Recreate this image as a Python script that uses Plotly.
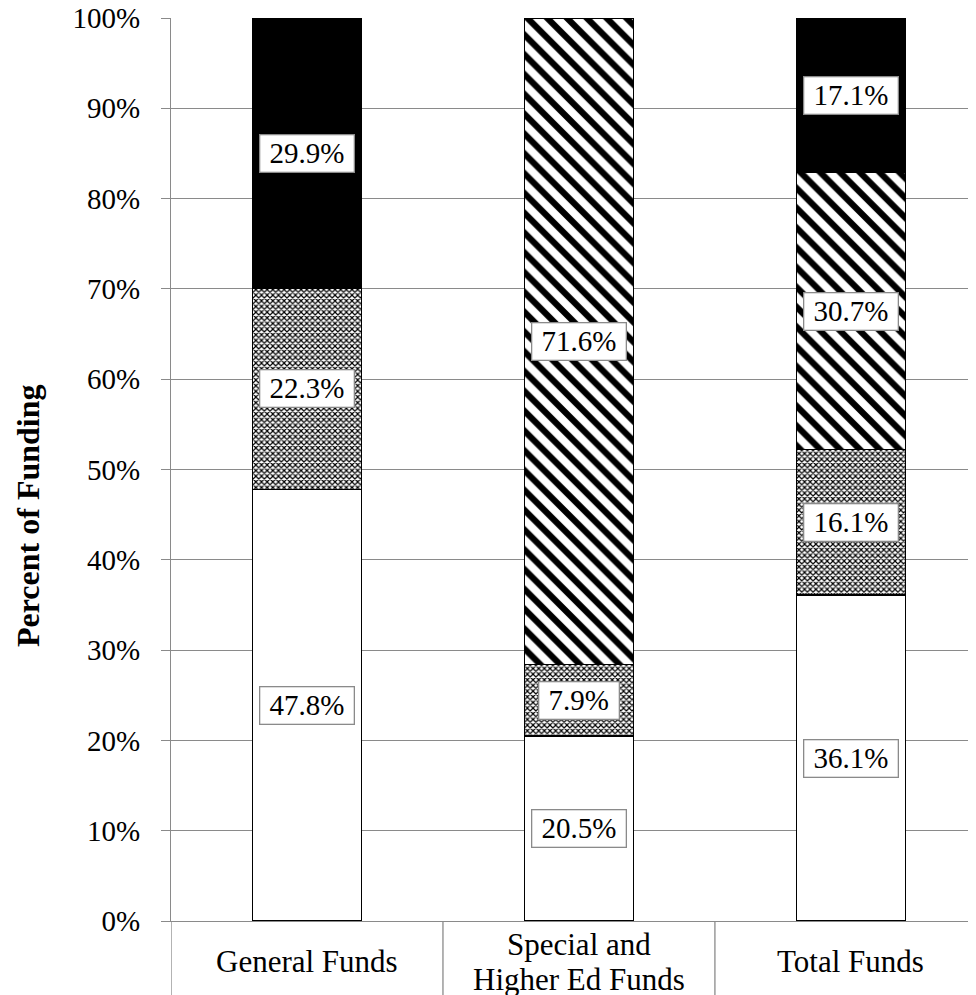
import plotly.graph_objects as go

categories = ["General Funds", "Special and<br>Higher Ed Funds", "Total Funds"]
series_names = ["Series A", "Series B", "Series C", "Series D"]
values_a = [47.8, 20.5, 36.1]   # white
values_b = [22.3, 7.9, 16.1]    # fine crosshatch
values_c = [0.0, 71.6, 30.7]    # diagonal stripes
values_d = [29.9, 0.0, 17.1]    # solid black
y_ticks = [0, 10, 20, 30, 40, 50, 60, 70, 80, 90, 100]
y_tick_labels = [f"{t}%" for t in y_ticks]
y_title = "Percent of Funding"

FONT = "Liberation Serif, Times New Roman, serif"
GRAY = "#8a8a8a"

all_series = [values_a, values_b, values_c, values_d]
styles = [
    dict(color="white"),
    dict(color="white", pattern=dict(shape="x", size=4, solidity=0.5, fgcolor="black",
                                     bgcolor="white", fgopacity=1)),
    dict(color="white", pattern=dict(shape="\\", size=14, solidity=0.45, fgcolor="black",
                                     bgcolor="white", fgopacity=1)),
    dict(color="black"),
]

W, H = 968, 987
ML, MR, MT, MB = 163, 0, 10, 74
plot_w = W - ML - MR
plot_h = H - MT - MB

x_idx = list(range(len(categories)))
fig = go.Figure()
for name, vals, st in zip(series_names, all_series, styles):
    fig.add_trace(go.Bar(
        x=x_idx, y=vals, name=name, width=0.4,
        marker=dict(line=dict(color="black", width=1.3), **st),
        hoverinfo="skip",
    ))

# value labels at segment centres
annotations = []
for i in x_idx:
    base = 0.0
    for vals in all_series:
        v = vals[i]
        if v > 0:
            annotations.append(dict(
                x=i, y=base + v / 2, xref="x", yref="y",
                text="\u00a0" + f"{v:.1f}%" + "\u00a0", showarrow=False,
                font=dict(family=FONT, size=29, color="black"),
                bgcolor="white", bordercolor=GRAY, borderwidth=1.3, borderpad=2,
                xanchor="center", yanchor="middle",
            ))
        base += v

# category labels (each line placed separately, 35 px line spacing)
label_center = -40.5 / plot_h
line_step = 35 / plot_h
for i, c in zip(x_idx, categories):
    lines = c.split("<br>")
    n = len(lines)
    for k, ln in enumerate(lines):
        annotations.append(dict(
            x=i, y=label_center - (k - (n - 1) / 2) * line_step, xref="x", yref="paper",
            text=ln, showarrow=False,
            font=dict(family=FONT, size=31, color="black"),
            xanchor="center", yanchor="middle",
        ))

# y-axis title
annotations.append(dict(
    x=-(163 - 20) / plot_w, y=(913 - 508) / plot_h, xref="paper", yref="paper",
    text="<b>" + y_title + "</b>", textangle=-90, showarrow=False,
    font=dict(family=FONT, size=32, color="black"),
    xanchor="center", yanchor="middle",
))

shapes = []
for b in range(len(categories) + 1):
    shapes.append(dict(type="line", xref="x", yref="paper", x0=b - 0.5, x1=b - 0.5,
                       y0=0, y1=-0.2, line=dict(color=GRAY, width=1.3)))

fig.update_layout(
    barmode="stack",
    width=W, height=H,
    margin=dict(l=ML, r=MR, t=MT, b=MB),
    paper_bgcolor="white", plot_bgcolor="white",
    showlegend=False,
    font=dict(family=FONT, color="black"),
    annotations=annotations,
    shapes=shapes,
    xaxis=dict(range=[-0.5, 2.46], showticklabels=False, ticks="", showgrid=False,
               showline=True, linecolor=GRAY, linewidth=1.3, zeroline=False, fixedrange=True),
    yaxis=dict(range=[0, 100], tickvals=y_ticks, ticktext=y_tick_labels,
               tickfont=dict(family=FONT, size=29, color="black"),
               ticks="outside", ticklen=9, tickcolor=GRAY, tickwidth=1.3,
               showgrid=True, gridcolor=GRAY, gridwidth=1.3,
               showline=True, linecolor=GRAY, linewidth=1.3, zeroline=False,
               ticklabelstandoff=15, ticklabeloverflow="allow",
               automargin=False, fixedrange=True),
)

fig.write_html("out.html")
